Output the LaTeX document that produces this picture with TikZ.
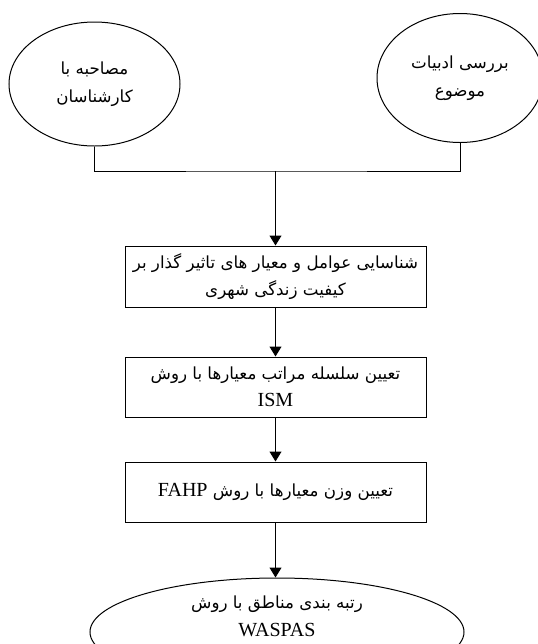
\documentclass[tikz,border=0pt]{standalone}
\usepackage{fontspec}
\setmainfont{Liberation Serif}
\newfontfamily\arabicfont[Script=Arabic]{DejaVu Sans}
\TeXXeTstate=1
\usetikzlibrary{shapes.geometric,arrows.meta}

\newcommand{\rtltext}[1]{{\arabicfont\beginR #1\endR}}
\newcommand{\ltrtext}[1]{{\rmfamily\fontsize{15}{20}\selectfont\beginL #1\endL}}

\tikzset{every picture/.style={line width=0.75pt}}
\tikzset{
	stepbox/.style={draw, rectangle, minimum width=225.75pt, minimum height=45pt, inner sep=0pt, align=center, font=\fontsize{12.5}{20}\selectfont},
	sourceoval/.style={draw, ellipse, inner sep=0pt, align=center, font=\fontsize{12.5}{21}\selectfont},
	flowarrow/.style={-{Triangle[length=7.5pt,width=9pt]}},
}

\begin{document}
\begin{tikzpicture}[x=0.75pt,y=0.75pt,yscale=-1,xscale=1]
	\useasboundingbox (0,0) rectangle (537,644);
	
	%Shape: Ellipse (sources)
	\node [sourceoval, minimum width=128.25pt, minimum height=93pt] (experts) at (94.5,84) {\rtltext{مصاحبه با}\\\rtltext{کارشناسان}};
	\node [sourceoval, minimum width=124.5pt, minimum height=96.75pt] (literature) at (460,78) {\rtltext{بررسی ادبیات}\\\rtltext{موضوع}};
	
	%Shape: Rectangle (steps)
	\node [stepbox, minimum height=45.75pt] (factors) at (275.5,276.5) {\rtltext{شناسایی عوامل و معیار های تاثیر گذار بر}\\\rtltext{کیفیت زندگی شهری}};
	\node [stepbox] (ism) at (275.5,387) {\rtltext{تعیین سلسله مراتب معیارها با روش}\\\ltrtext{ISM}};
	\node [stepbox] (fahp) at (275.5,492) {\rtltext{تعیین وزن معیارها با روش \ltrtext{FAHP}}};
	
	%Shape: Ellipse (result)
	\node [sourceoval, minimum width=280.5pt, minimum height=81pt] (waspas) at (277,632) {};
	% Text Node
	\node [align=center, font=\fontsize{12.5}{21}\selectfont] (waspastext) at (277,616) {\rtltext{رتبه بندی مناطق با روش}\\\ltrtext{WASPAS}};
	
	%Straight Lines
	\coordinate (join) at (275.5,171);
	\draw (experts.south) |- (join) -| (literature.south);
	\draw [flowarrow] (join) -- (factors.north);
	\draw [flowarrow] (factors) -- (ism);
	\draw [flowarrow] (ism) -- (fahp);
	\draw [flowarrow] (fahp.south) -- (fahp.south |- waspas.north);
	
\end{tikzpicture}
\end{document}
